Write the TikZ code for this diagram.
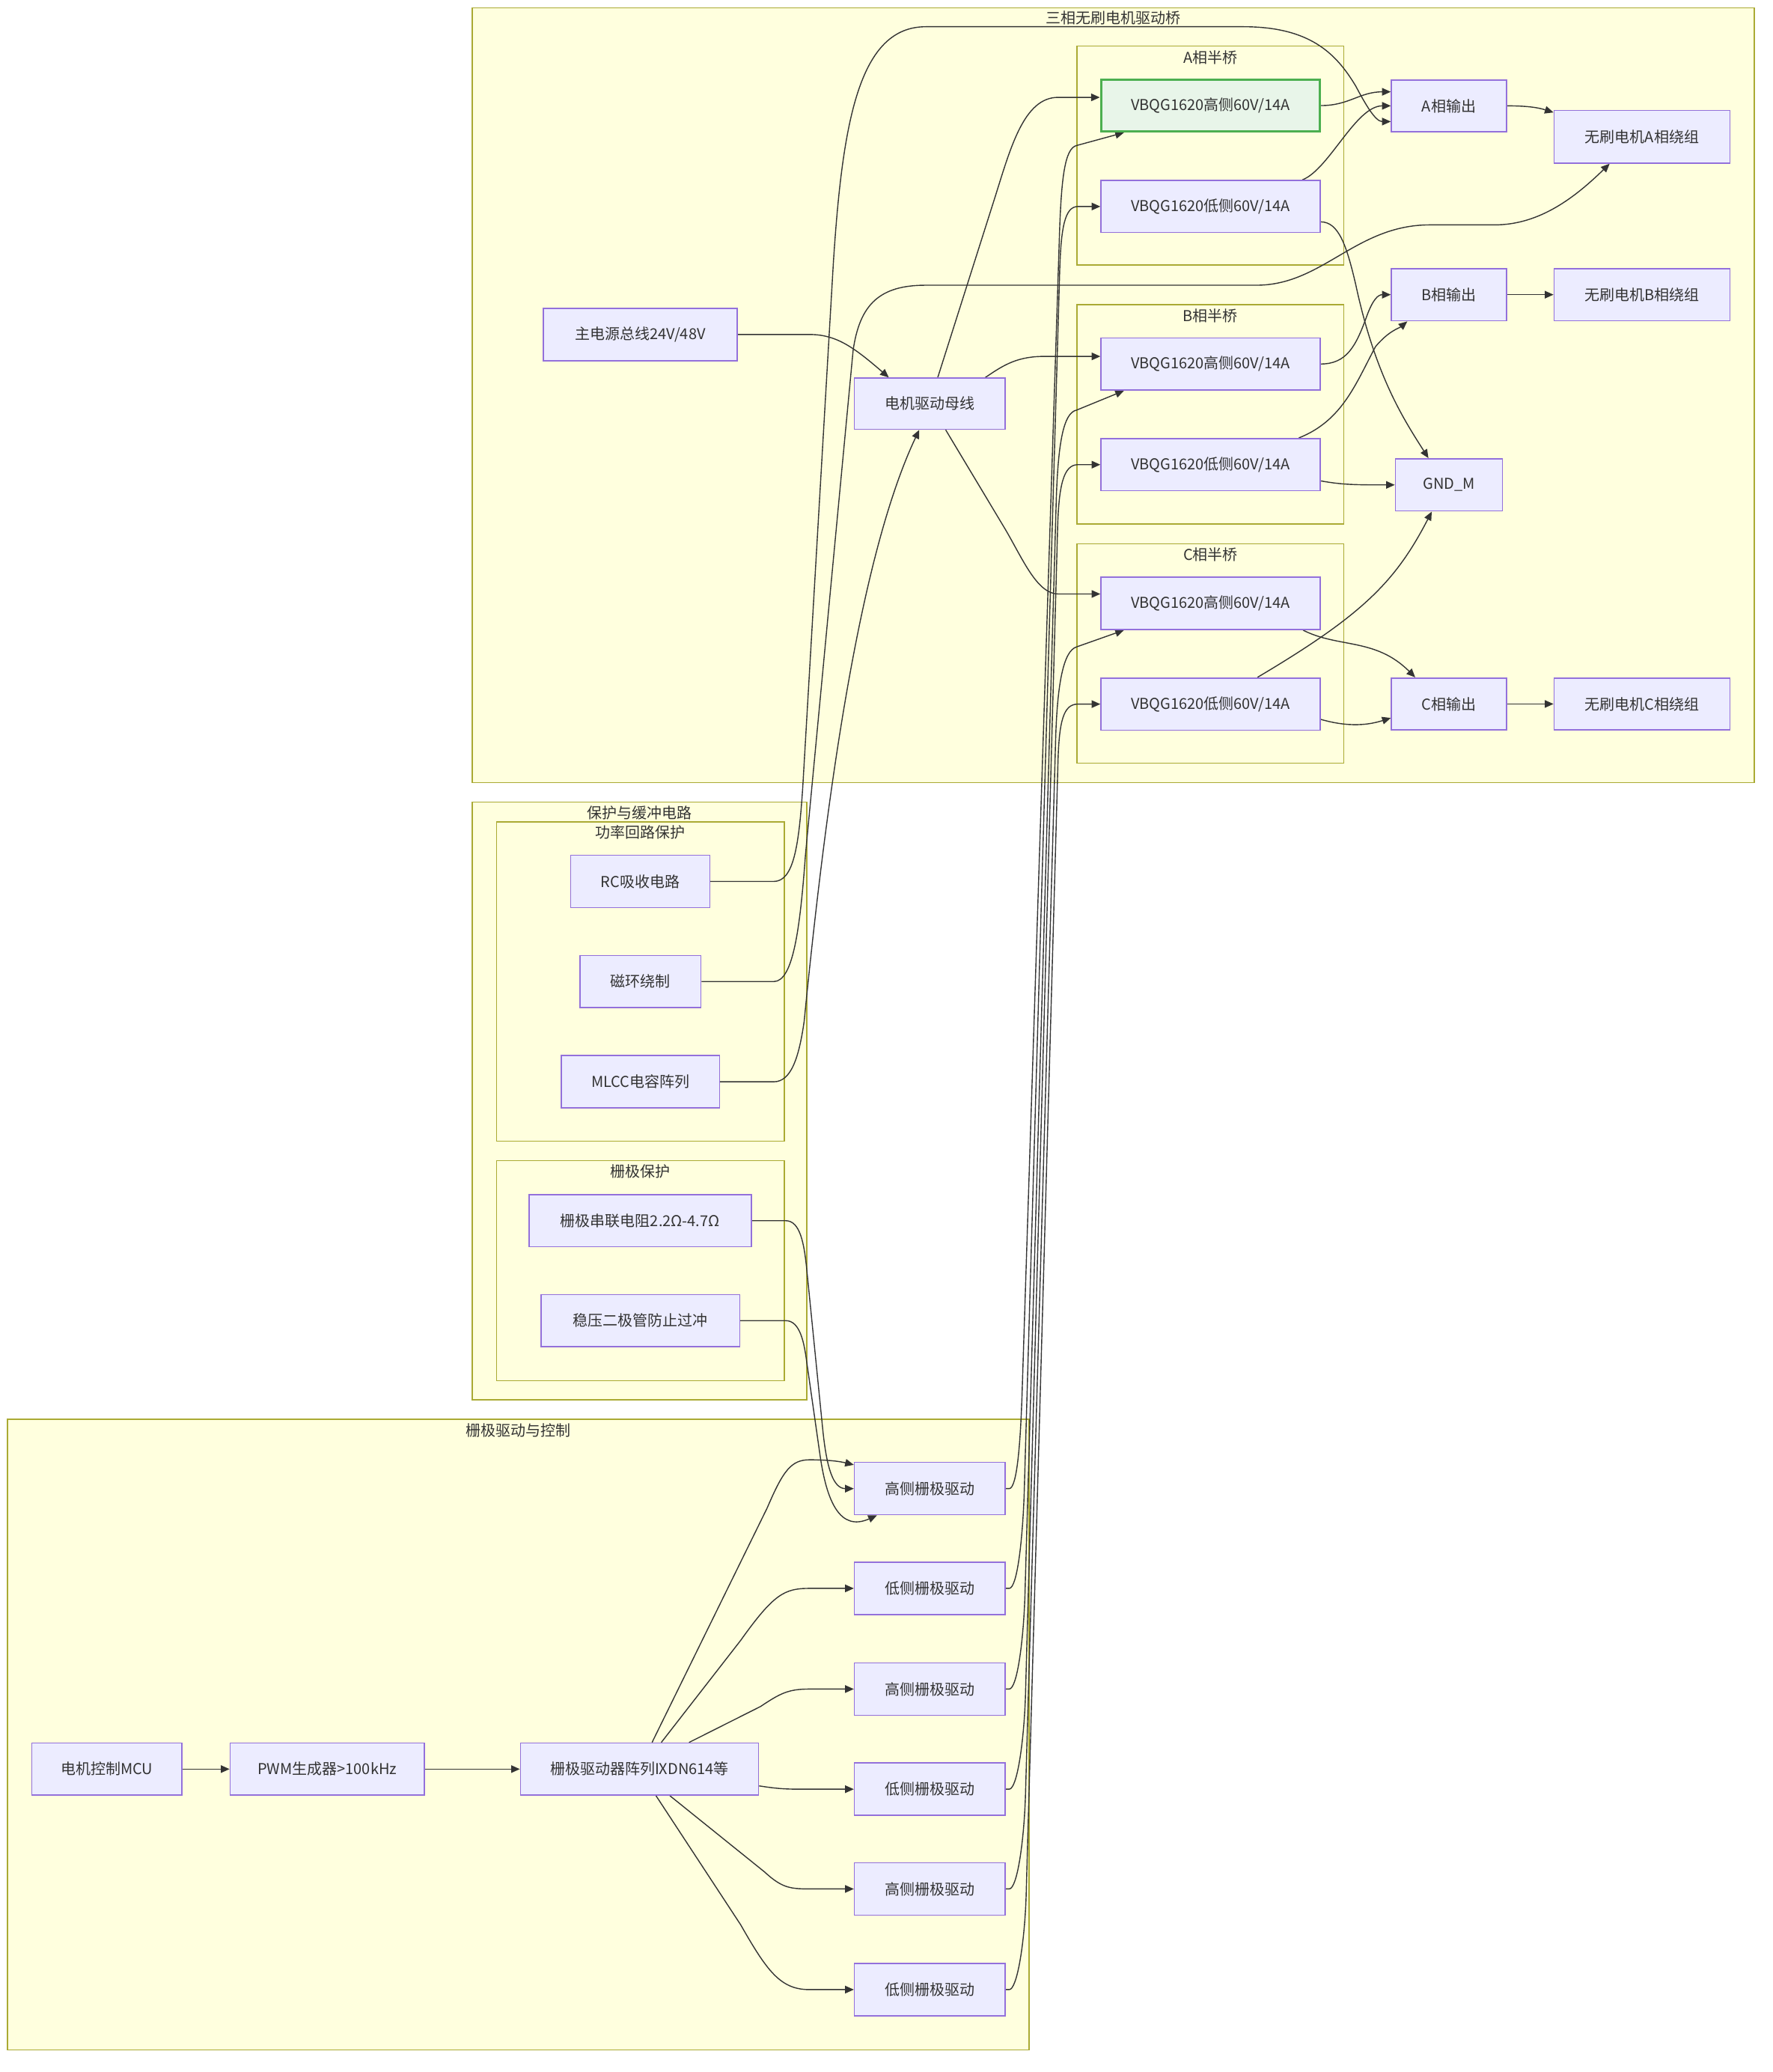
\documentclass[tikz,border=0pt]{standalone}
\usepackage{fontspec}
\setmainfont{Noto Sans CJK SC}
\usetikzlibrary{arrows.meta,calc}
\definecolor{ndf}{HTML}{ECECFF}
\definecolor{ndb}{HTML}{9370DB}
\definecolor{clf}{HTML}{FFFFDE}
\definecolor{clb}{HTML}{AAAA33}
\definecolor{edc}{HTML}{333333}
\definecolor{txc}{HTML}{333333}
\definecolor{gnf}{HTML}{E8F5E9}
\definecolor{gnb}{HTML}{4CAF50}
\newdimen\dunit \dunit=0.8836pt
\pgfdeclarelayer{bg}\pgfdeclarelayer{edg}\pgfsetlayers{bg,edg,main}
% style, x1, y1, x2, y2, text, name
\newcommand\bx[7]{\node[#1,minimum width={(#4-#2)*\dunit},minimum height={(#5-#3)*\dunit}] (#7) at ({(#2+#4)/2},{(#3+#5)/2}) {#6};}
\tikzset{
  nd/.style={draw=ndb, fill=ndf, line width=0.8pt, inner sep=0pt, text=txc, font=\fontsize{10}{12}\selectfont},
  gn/.style={nd, draw=gnb, fill=gnf, line width=1.5pt},
  cl/.style={draw=clb, fill=clf, line width=0.8pt, inner sep=0pt},
  ttl/.style={text=txc, font=\fontsize{10}{12}\selectfont, inner sep=0pt},
  ed/.style={draw=edc, line width=0.7pt, -{Triangle[length=5.8pt,width=5pt]}},
}
\begin{document}
\begin{tikzpicture}[x=0.8836pt,y=-0.8836pt]
\useasboundingbox (0,0) rectangle (1340,1566.3);
\begin{pgfonlayer}{bg}
\fill[white] (0,0) rectangle (1340,1566.3);
\bx{cl}{357}{6}{1326.5}{591.7}{}{clthree}
\bx{cl}{814.3}{34.9}{1016}{200.3}{}{cla}
\bx{cl}{814.3}{230.2}{1016}{396.2}{}{clbb}
\bx{cl}{814.3}{411}{1016}{577}{}{clc}
\bx{cl}{357}{606.3}{610}{1058}{}{clprot}
\bx{cl}{375.5}{621.2}{593}{862.6}{}{clpl}
\bx{cl}{375.5}{877.4}{593}{1043.8}{}{clgp}
\bx{cl}{5.5}{1073}{778}{1549.5}{}{clgd}
\node[ttl] (tthree) at (841.8,13.8) {三相无刷电机驱动桥};
\node[ttl] (ta) at (915.2,43.5) {A相半桥};
\node[ttl] (tb) at (915.2,238.8) {B相半桥};
\node[ttl] (tc) at (915.2,419.3) {C相半桥};
\node[ttl] (tprot) at (483.5,614.5) {保护与缓冲电路};
\node[ttl] (tpl) at (484.2,629) {功率回路保护};
\node[ttl] (tgp) at (484.2,885.6) {栅极保护};
\node[ttl] (tgd) at (391.8,1081.5) {栅极驱动与控制};
\end{pgfonlayer}
% nodes
\bx{gn}{832.4}{60.2}{998}{99.4}{VBQG1620高侧60V/14A}{ahi}
\bx{nd}{832.4}{136.4}{998}{175.8}{VBQG1620低侧60V/14A}{alo}
\bx{nd}{832.4}{255.4}{998}{294.9}{VBQG1620高侧60V/14A}{bhi}
\bx{nd}{832.4}{331.5}{998}{371}{VBQG1620低侧60V/14A}{blo}
\bx{nd}{832.4}{436.3}{998}{475.9}{VBQG1620高侧60V/14A}{chi}
\bx{nd}{832.4}{512.5}{998}{552}{VBQG1620低侧60V/14A}{clo}
\bx{nd}{1052}{60.4}{1139}{99.6}{A相输出}{aout}
\bx{nd}{1052}{203}{1139}{242.5}{B相输出}{bout}
\bx{nd}{1052}{512.5}{1139}{551.8}{C相输出}{cout}
\bx{nd}{1055}{346.8}{1136}{386.3}{GND\_M}{gnd}
\bx{nd}{1175}{83.5}{1308}{123.3}{无刷电机A相绕组}{wa}
\bx{nd}{1175}{203}{1308}{242.5}{无刷电机B相绕组}{wb}
\bx{nd}{1175}{512.5}{1308}{551.8}{无刷电机C相绕组}{wc}
\bx{nd}{410.8}{233}{557.4}{272.7}{主电源总线24V/48V}{pwr}
\bx{nd}{646}{285.8}{760}{324.5}{电机驱动母线}{bus}
\bx{nd}{431.5}{646.6}{536.6}{686}{RC吸收电路}{rc}
\bx{nd}{438.6}{722.3}{529.9}{761.7}{磁环绕制}{mag}
\bx{nd}{424.5}{798}{544}{837.5}{MLCC电容阵列}{mlcc}
\bx{nd}{400}{903}{568}{942.5}{栅极串联电阻2.2Ω-4.7Ω}{rg}
\bx{nd}{409}{978.6}{559.3}{1018}{稳压二极管防止过冲}{zd}
\bx{nd}{24}{1317.6}{137.5}{1357}{电机控制MCU}{mcu}
\bx{nd}{174}{1317.6}{320.8}{1357}{PWM生成器>100kHz}{pwm}
\bx{nd}{393.5}{1317.6}{573.5}{1357}{栅极驱动器阵列IXDN614等}{arr}
\bx{nd}{646}{1105.5}{760}{1145.1}{高侧栅极驱动}{g1}
\bx{nd}{646}{1180.9}{760}{1220.5}{低侧栅极驱动}{g2}
\bx{nd}{646}{1257}{760}{1296.6}{高侧栅极驱动}{g3}
\bx{nd}{646}{1332.7}{760}{1372.3}{低侧栅极驱动}{g4}
\bx{nd}{646}{1408.1}{760}{1447.7}{高侧栅极驱动}{g5}
\bx{nd}{646}{1484.2}{760}{1523.8}{低侧栅极驱动}{g6}
\begin{pgfonlayer}{edg}
% power bus
\draw[ed] (pwr.east) -- (612,252.85) .. controls (632,252.85) and (645,262) .. ($(bus.north)+(-31,0)$);
\draw[ed] ($(bus.north)+(6,0)$) -- (752,150) .. controls (764,112) and (774,73.6) .. (800,73.6) -- ($(ahi.west)+(0,-6.2)$);
\draw[ed] ($(bus.north)+(42,0)$) .. controls (760,275) and (770,269.4) .. (790,269.4) -- ($(bhi.west)+(0,-5.75)$);
\draw[ed] ($(bus.south)+(12,0)$) -- (760,400) .. controls (773,422) and (784,449) .. (800,449) -- ($(chi.west)+(0,-7.1)$);
% protection
\draw[ed] (rc.east) -- (585,666.3) .. controls (600,666.3) and (604,640) .. (607,594) -- (630,200) .. controls (637,90) and (650,20.2) .. (700,20.2) -- (940,20.2) .. controls (990,20.2) and (1010,40) .. (1025,65) .. controls (1033,80) and (1040,91.9) .. ($(aout.west)+(0,11.9)$);
\draw[ed] (mag.east) -- (585,742) .. controls (600,742) and (605,700) .. (609,646) -- (645,265) .. controls (650,230) and (665,215.6) .. (700,215.6) -- (950,215.6) .. controls (1000,215.6) and (1025,170) .. (1081,170) -- (1130,170) .. controls (1165,170) and (1192,148) .. ($(wa.south)+(-24.5,0)$);
\draw[ed] (mlcc.east) -- (585,817.75) .. controls (598,817.75) and (604,800) .. (608,772) .. controls (625,600) and (650,420) .. ($(bus.south)+(-8,0)$);
\draw[ed] (rg.east) -- (594,922.75) .. controls (605,922.75) and (608,940) .. (610,960) -- (622,1080) .. controls (625,1110) and (630,1125.3) .. (g1.west);
\draw[ed] (zd.east) -- (594,998.3) .. controls (605,998.3) and (608,1015) .. (610,1030) -- (620,1100) .. controls (625,1135) and (635,1158) .. ($(g1.south)+(-40,0)$);
% control chain
\draw[ed] (mcu.east) -- (pwm.west);
\draw[ed] (pwm.east) -- (arr.west);
\draw[ed] ($(arr.north)+(9.5,0)$) -- (580,1140) .. controls (592,1112) and (598,1103.5) .. (612,1103.5) .. controls (628,1103.5) and (636,1105) .. ($(g1.west)+(0,-18)$);
\draw[ed] ($(arr.north)+(16.5,0)$) -- (560,1240) .. controls (585,1205) and (593,1200.7) .. (612,1200.7) -- (g2.west);
\draw[ed] ($(arr.north)+(37.5,0)$) -- (575,1290) .. controls (590,1280) and (596,1276.8) .. (612,1276.8) -- (g3.west);
\draw[ed] ($(arr.east)+(0,12.7)$) .. controls (590,1352.5) and (595,1352.5) .. (612,1352.5) -- (g4.west);
\draw[ed] ($(arr.south)+(23,0)$) -- (578,1415) .. controls (592,1427.9) and (598,1427.9) .. (615,1427.9) -- (g5.west);
\draw[ed] ($(arr.south)+(12.5,0)$) -- (560,1455) .. controls (580,1490) and (590,1504) .. (612,1504) -- (g6.west);
% gate drive to MOSFETs
\draw[ed] (g1.east) -- (763,1125.3) .. controls (769,1125.3) and (771.5,1090) .. (772.7,1055.3) -- (801,178) .. controls (802.4,135) and (805,112) .. (814,110) -- ($(ahi.south)+(-65.4,0)$);
\draw[ed] (g2.east) -- (763,1200.7) .. controls (769,1200.7) and (773,1165) .. (774.3,1130.7) -- (801.2,205) .. controls (802.2,172) and (805,156.1) .. (815,156.1) -- (alo.west);
\draw[ed] (g3.east) -- (763,1276.8) .. controls (769,1276.8) and (773.7,1241) .. (774.9,1206.8) -- (798.6,378) .. controls (800,335) and (804,312) .. (814,310) -- ($(bhi.south)+(-65.4,0)$);
\draw[ed] (g4.east) -- (763,1352.5) .. controls (769,1352.5) and (774.1,1317) .. (775.3,1282.5) -- (799.6,400) .. controls (800.5,367) and (804,351.25) .. (815,351.25) -- (blo.west);
\draw[ed] (g5.east) -- (763,1427.9) .. controls (769,1427.9) and (774.1,1393) .. (775.3,1357.9) -- (798.1,560) .. controls (799.3,517) and (804,492) .. (814,489) -- ($(chi.south)+(-65.4,0)$);
\draw[ed] (g6.east) -- (763,1504) .. controls (769,1504) and (774.6,1469) .. (775.8,1434) -- (799.9,576) .. controls (800.8,545) and (804,532.25) .. (815,532.25) -- (clo.west);
% phase outputs
\draw[ed] (ahi.east) .. controls (1020,79.8) and (1028,69.4) .. ($(aout.west)+(0,-10.6)$);
\draw[ed] ($(alo.north)+(69.5,0)$) .. controls (1005,128) and (1025,80) .. (aout.west);
\draw[ed] (aout.east) .. controls (1158,80) and (1165,82) .. ($(wa.west)+(0,-18.4)$);
\draw[ed] ($(alo.east)+(0,11.6)$) .. controls (1012,167.7) and (1018,185) .. (1025,215) .. controls (1040,285) and (1062,318) .. ($(gnd.north)+(-15.5,0)$);
\draw[ed] (bhi.east) .. controls (1018,275.15) and (1025,262) .. (1033,240) .. controls (1038,226) and (1042,222.75) .. (bout.west);
\draw[ed] ($(blo.north)+(66.8,0)$) .. controls (1015,318) and (1025,290) .. (1040,262) .. controls (1050,250) and (1058,248) .. ($(bout.south)+(-31.5,0)$);
\draw[ed] ($(blo.east)+(0,12.25)$) .. controls (1015,366.5) and (1025,366.55) .. (gnd.west);
\draw[ed] (bout.east) -- (wb.west);
\draw[ed] ($(chi.south)+(70,0)$) .. controls (1012,490) and (1040,482) .. ($(cout.north)+(-25.5,0)$);
\draw[ed] ($(clo.north)+(35.5,0)$) .. controls (1030,465) and (1055,440) .. ($(gnd.south)+(-13,0)$);
\draw[ed] ($(clo.east)+(0,11.5)$) .. controls (1020,550) and (1035,548) .. ($(cout.west)+(0,10.55)$);
\draw[ed] (cout.east) -- (wc.west);
\end{pgfonlayer}
\end{tikzpicture}
\end{document}
